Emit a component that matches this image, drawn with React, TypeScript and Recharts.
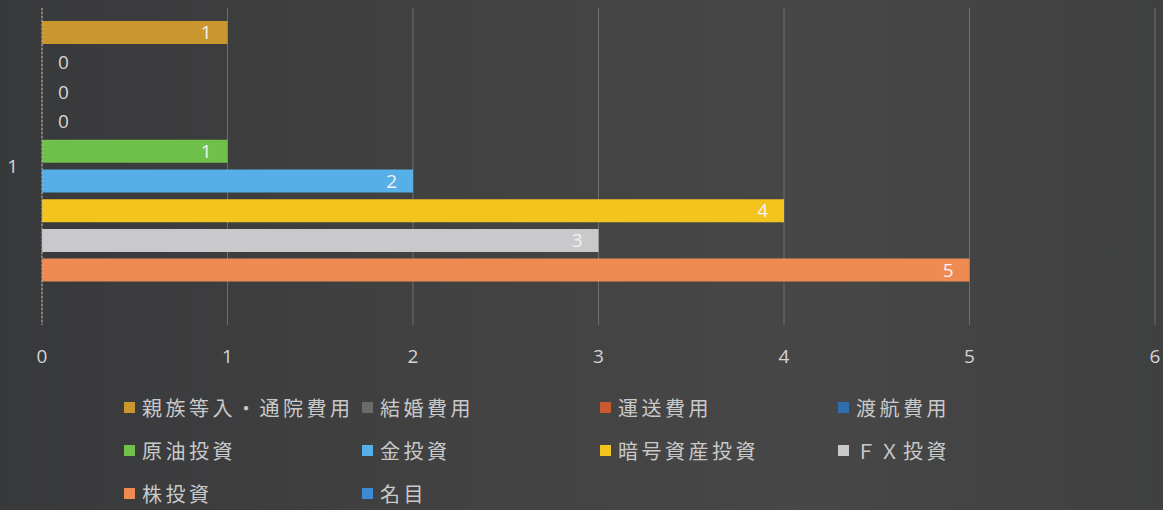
import { BarChart, Bar, XAxis, YAxis, CartesianGrid, Legend, LabelList, Cell } from 'recharts';

const categories = ['1'];
const seriesNames = [
  '親族等入・通院費用', '結婚費用', '運送費用', '渡航費用',
  '原油投資', '金投資', '暗号資産投資', 'ＦＸ投資', '株投資', '名目',
];
const seriesValues: (number | null)[] = [1, 0, 0, 0, 1, 2, 4, 3, 5, null];
const xTicks = [0, 1, 2, 3, 4, 5, 6];

const COLORS = [
  '#c9962f', '#6a6a6a', '#c95a30', '#2f6fae',
  '#70c04c', '#56afe6', '#f3c31e', '#c9c9cb', '#ef8a52', '#3f8ad6',
];

const data = categories.map((c) => {
  const row: Record<string, string | number | null> = { name: c };
  seriesNames.forEach((s, i) => { row[s] = seriesValues[i]; });
  return row;
});

const NUM_FONT = '"Open Sans", "Noto Sans", sans-serif';
const JP_FONT = '"Noto Sans CJK JP", "Noto Sans", sans-serif';

function ValueLabel(props: any) {
  const { x, y, width, height, value } = props;
  if (value == null) return null;
  const cy = Number(y) + Number(height) / 2;
  if (value === 0) {
    return (
      <text x={Number(x) + 16} y={cy} dy="0.35em" fill="#d6d6d6" fontSize={19} fontFamily={NUM_FONT}>
        {value}
      </text>
    );
  }
  return (
    <text x={Number(x) + Number(width) - 16} y={cy} dy="0.35em" textAnchor="end" fill="#f2f2f2" fontSize={19} fontFamily={NUM_FONT}>
      {value}
    </text>
  );
}

const LEGEND_COLS = [124, 362, 600, 838];

function renderLegend() {
  return (
    <div style={{ position: 'relative', height: 130, width: 1155 }}>
      {seriesNames.map((s, i) => {
        const col = i % 4;
        const row = Math.floor(i / 4);
        return (
          <div
            key={s}
            style={{
              position: 'absolute',
              left: LEGEND_COLS[col],
              top: 6 + row * 43,
              height: 43,
              display: 'flex',
              alignItems: 'center',
              whiteSpace: 'nowrap',
            }}
          >
            <span style={{ width: 11, height: 11, background: COLORS[i], display: 'inline-block', marginRight: 7 }} />
            <span style={{ color: '#c9c9c9', fontSize: 20, letterSpacing: 3.5, fontFamily: JP_FONT }}>{s}</span>
          </div>
        );
      })}
    </div>
  );
}

export default function App() {
  return (
    <div
      style={{
        width: 1163,
        height: 510,
        position: 'absolute',
        left: 0,
        top: 0,
        background: 'linear-gradient(90deg, #38393b 0%, #434343 45%, #474747 70%, #3f4040 100%)',
      }}
    >
      <BarChart
        width={1163}
        height={510}
        data={data}
        layout="vertical"
        margin={{ top: 8, right: 8, bottom: 0, left: 0 }}
        barSize={23}
        barGap={6.7}
      >
        <CartesianGrid horizontal={false} stroke="#6e6e6e" strokeWidth={1} />
        <XAxis
          type="number"
          domain={[0, 6]}
          ticks={xTicks}
          axisLine={false}
          tickLine={false}
          tickSize={0}
          tickMargin={25}
          height={55}
          tick={{ fill: '#d4d4d4', fontSize: 19, fontFamily: NUM_FONT }}
        />
        <YAxis
          type="category"
          dataKey="name"
          width={42}
          tickLine={false}
          tickSize={0}
          tickMargin={24}
          axisLine={{ stroke: '#a8a8a8', strokeDasharray: '2 2' }}
          tick={{ fill: '#d4d4d4', fontSize: 19, fontFamily: NUM_FONT }}
        />
        <Legend verticalAlign="bottom" align="left" content={renderLegend} />
        {seriesNames.map((s, i) => (
          <Bar
            key={s}
            dataKey={s}
            name={s}
            fill={COLORS[i]}
            minPointSize={seriesValues[i] === 0 ? 1 : 0}
            isAnimationActive={false}
          >
            {data.map((row, j) => (
              <Cell key={j} fillOpacity={row[s] === 0 ? 0 : 1} />
            ))}
            <LabelList dataKey={s} content={ValueLabel} />
          </Bar>
        ))}
      </BarChart>
    </div>
  );
}
